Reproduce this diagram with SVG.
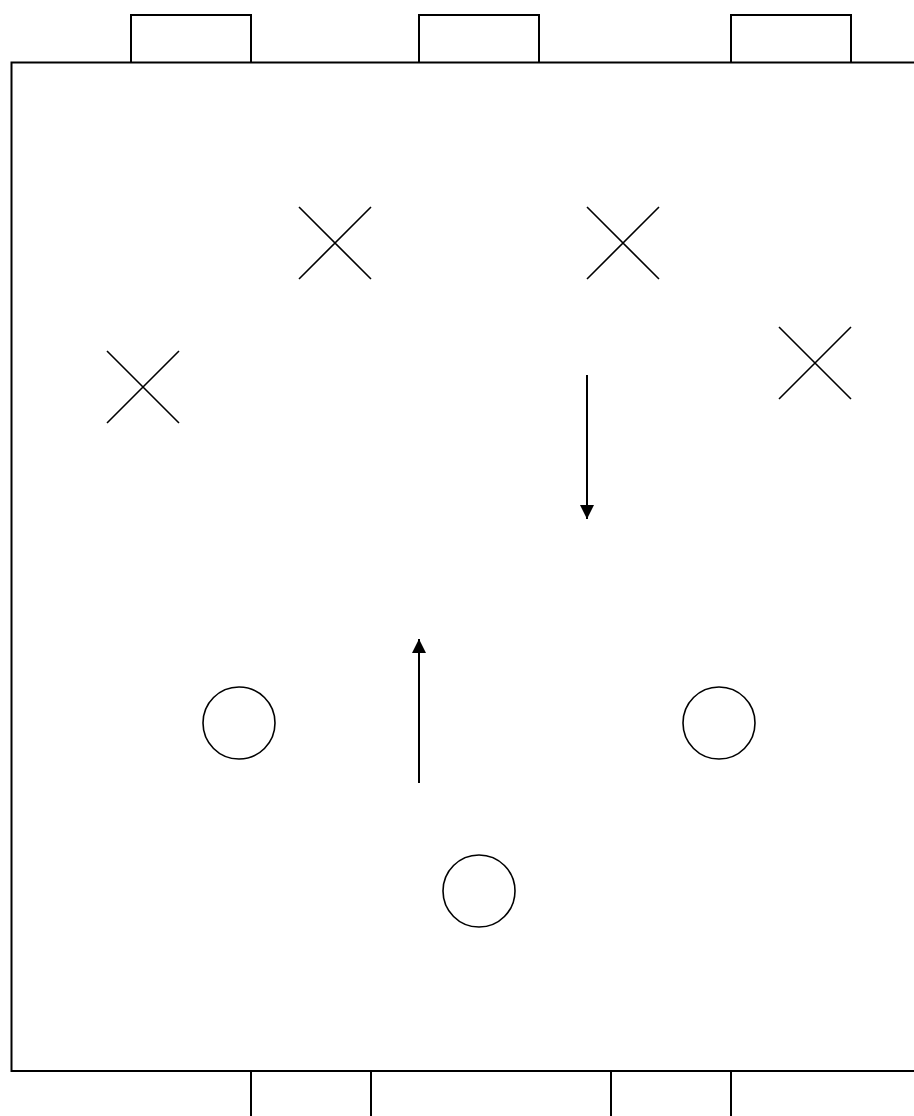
<svg xmlns="http://www.w3.org/2000/svg" width="914" height="1116" viewBox="0 0 914 1116">
<style>
.ln{fill:none;stroke:#000;stroke-width:2}
.x{stroke:#000;stroke-width:1.6}
.c{fill:#fff;stroke:#000;stroke-width:1.6}
</style>
<defs>
<marker id="ah" viewBox="0 0 10 10" refX="10" refY="5" markerWidth="14" markerHeight="14" markerUnits="userSpaceOnUse" orient="auto">
<path d="M0,0 L10,5 L0,10 Z" fill="#000"/>
</marker>
</defs>
<rect width="914" height="1116" fill="#fff"/>
<g id="field">
<path class="ln" d="M920,62.5 H11.5 V1071 H920"/>
</g>
<g id="goals-top">
<path class="ln" d="M131,62.5 V15 H251 V62.5"/>
<path class="ln" d="M419,62.5 V15 H539 V62.5"/>
<path class="ln" d="M731,62.5 V15 H851 V62.5"/>
</g>
<g id="goals-bottom">
<path class="ln" d="M251,1071 V1120 M371,1071 V1120"/>
<path class="ln" d="M611,1071 V1120 M731,1071 V1120"/>
</g>
<g id="x1"><path class="x" d="M107,351 L179,423 M179,351 L107,423"/></g>
<g id="x2"><path class="x" d="M299,207 L371,279 M371,207 L299,279"/></g>
<g id="x3"><path class="x" d="M587,207 L659,279 M659,207 L587,279"/></g>
<g id="x4"><path class="x" d="M779,327 L851,399 M851,327 L779,399"/></g>
<g id="o1"><circle class="c" cx="239" cy="723" r="36"/></g>
<g id="o2"><circle class="c" cx="719" cy="723" r="36"/></g>
<g id="o3"><circle class="c" cx="479" cy="891" r="36"/></g>
<g id="connectors">
<line class="ln" x1="587" y1="375" x2="587" y2="519" marker-end="url(#ah)"/>
<line class="ln" x1="419" y1="783" x2="419" y2="639" marker-end="url(#ah)"/>
</g>
</svg>
